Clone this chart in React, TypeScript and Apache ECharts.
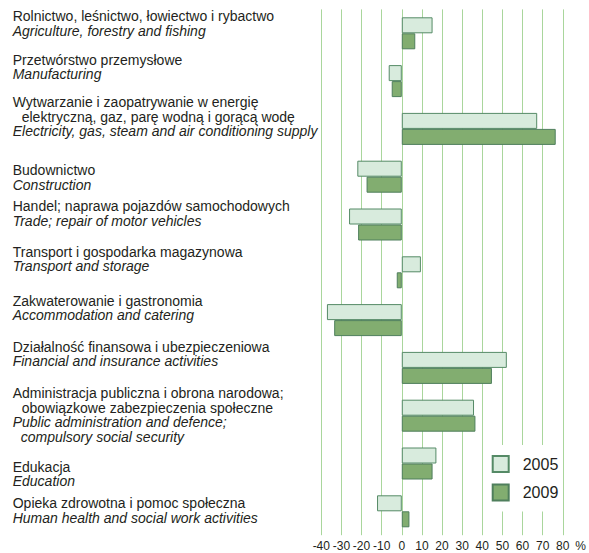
import React, { useEffect, useRef } from "react";
import * as echarts from "echarts";

const categoriesPL: string[] = [
  "Rolnictwo, leśnictwo, łowiectwo i rybactwo",
  "Przetwórstwo przemysłowe",
  "Wytwarzanie i zaopatrywanie w energię\n  elektryczną, gaz, parę wodną i gorącą wodę",
  "Budownictwo",
  "Handel; naprawa pojazdów samochodowych",
  "Transport i gospodarka magazynowa",
  "Zakwaterowanie i gastronomia",
  "Działalność finansowa i ubezpieczeniowa",
  "Administracja publiczna i obrona narodowa;\n  obowiązkowe zabezpieczenia społeczne",
  "Edukacja",
  "Opieka zdrowotna i pomoc społeczna",
];

const categoriesEN: string[] = [
  "Agriculture, forestry and fishing",
  "Manufacturing",
  "Electricity, gas, steam and air conditioning supply",
  "Construction",
  "Trade; repair of motor vehicles",
  "Transport and storage",
  "Accommodation and catering",
  "Financial and insurance activities",
  "Public administration and defence;\n  compulsory social security",
  "Education",
  "Human health and social work activities",
];

const values2005: number[] = [15.3, -6.5, 67.3, -22.1, -26.2, 9.5, -37.2, 52.2, 35.9, 17.2, -12.3];
const values2009: number[] = [6.7, -5.0, 76.5, -17.5, -21.7, -2.5, -33.6, 44.8, 36.6, 15.3, 3.8];

const seriesNames: string[] = ["2005", "2009"];

// layout: top y of each label block (pixels)
const labelTops: number[] = [9, 52.5, 95, 163, 199, 244.7, 293.7, 339.7, 386, 459.7, 496];

const FONT = "'Liberation Sans', Arial, Helvetica, sans-serif";
const TEXT_COLOR = "#231f20";

function buildRich(pl: string, en: string): string {
  const parts: string[] = [];
  pl.split("\n").forEach((line) => {
    if (line.startsWith("  ")) parts.push(`{ai|${line.trim()}}`);
    else parts.push(`{a|${line}}`);
  });
  en.split("\n").forEach((line) => {
    if (line.startsWith("  ")) parts.push(`{bi|${line.trim()}}`);
    else parts.push(`{b|${line}}`);
  });
  return parts.join("\n");
}

export default function App() {
  const ref = useRef<HTMLDivElement>(null);

  useEffect(() => {
    if (!ref.current) return;
    const chart = echarts.init(ref.current, undefined, { renderer: "svg" });

    const base = { fontSize: 14, fontFamily: FONT, color: TEXT_COLOR, lineHeight: 14.5 };
    const rich = {
      a: { ...base },
      ai: { ...base, padding: [0, 0, 0, 9] },
      b: { ...base, fontStyle: "italic" },
      bi: { ...base, fontStyle: "italic", padding: [0, 0, 0, 8] },
    };

    const graphics = categoriesPL.map((pl, i) => ({
      type: "text",
      x: 12.7,
      y: labelTops[i],
      z: 10,
      style: {
        text: buildRich(pl, categoriesEN[i]),
        rich,
        align: "left",
        verticalAlign: "top",
        fontSize: 14,
        fontFamily: FONT,
        fill: TEXT_COLOR,
      },
    }));

    chart.setOption({
      animation: false,
      backgroundColor: "#ffffff",
      grid: { left: 321.3, right: 24, top: 9.4, bottom: 17.8, containLabel: false },
      legend: {
        data: seriesNames,
        orient: "vertical",
        left: 487.7,
        top: 445,
        padding: [10, 3, 10, 4],
        itemWidth: 16,
        itemHeight: 16,
        itemGap: 10.5,
        backgroundColor: "#ffffff",
        icon: "rect",
        textStyle: { fontSize: 16, color: TEXT_COLOR, fontFamily: FONT, padding: [0, 0, 0, 9] },
        z: 5,
      },
      xAxis: {
        type: "value",
        min: -40,
        max: 80,
        interval: 10,
        name: "%",
        nameLocation: "end",
        nameGap: 9,
        nameTextStyle: {
          fontSize: 12,
          color: TEXT_COLOR,
          fontFamily: FONT,
          align: "left",
          verticalAlign: "top",
          padding: [5, 0, 0, 0],
        },
        axisLine: { show: false },
        axisTick: { show: false },
        axisLabel: { fontSize: 12, color: TEXT_COLOR, fontFamily: FONT, margin: 5 },
        splitLine: { show: true, lineStyle: { color: "#a9d69c", width: 1 } },
      },
      yAxis: {
        type: "category",
        inverse: true,
        data: categoriesEN,
        axisLine: { show: false },
        axisTick: { show: false },
        axisLabel: { show: false },
        splitLine: { show: false },
      },
      series: [
        {
          name: seriesNames[0],
          type: "bar",
          data: values2005,
          barWidth: 16,
          barGap: "0%",
          itemStyle: { color: "#d8ebdd", borderColor: "#558a66", borderWidth: 1 },
        },
        {
          name: seriesNames[1],
          type: "bar",
          data: values2009,
          barWidth: 16,
          barGap: "0%",
          itemStyle: { color: "#82ad70", borderColor: "#4f7f5c", borderWidth: 1 },
        },
      ],
      graphic: graphics,
    });

    return () => chart.dispose();
  }, []);

  return (
    <div
      ref={ref}
      style={{ position: "fixed", left: 0, top: 0, width: 589, height: 553 }}
    />
  );
}
